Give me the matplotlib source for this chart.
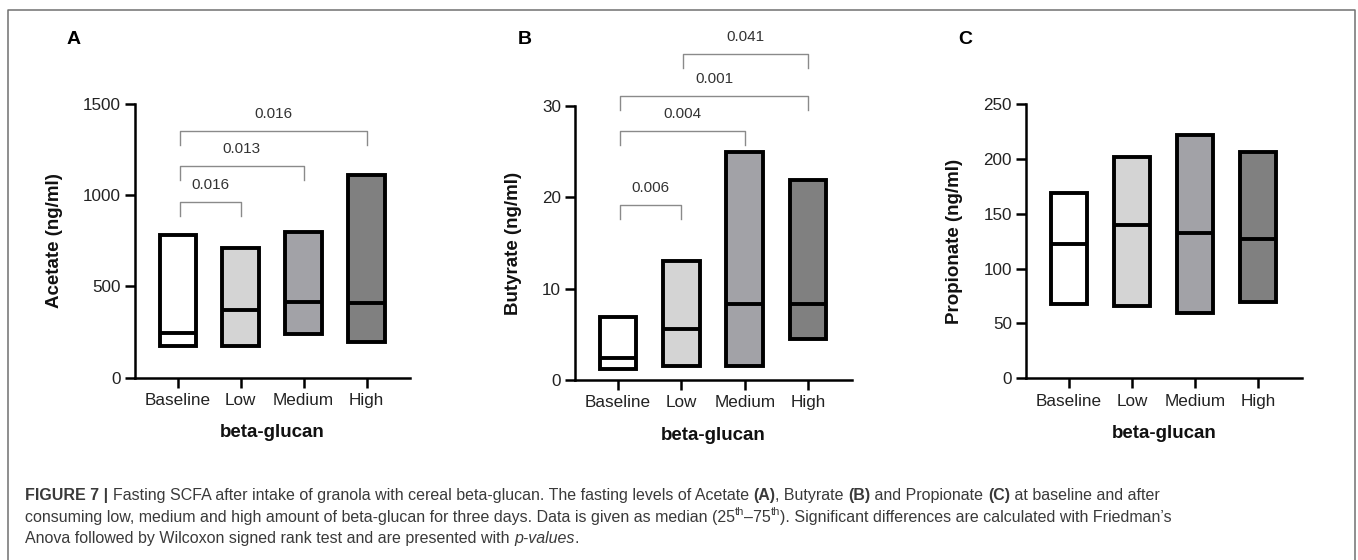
import numpy as np
import matplotlib.pyplot as plt

plt.rcParams['font.family'] = ['Liberation Sans', 'DejaVu Sans']

# groups and median (25th-75th) values
groups = ['Baseline', 'Low', 'Medium', 'High']
fills = ['#ffffff', '#d4d4d4', '#a2a2a7', '#808080']

acetate_q1 = [175, 175, 239, 197]
acetate_med = [243, 371, 413, 408]
acetate_q3 = [782, 709, 800, 1111]

butyrate_q1 = [1.17, 1.53, 1.53, 4.49]
butyrate_med = [2.37, 5.55, 8.32, 8.32]
butyrate_q3 = [6.93, 13.06, 24.94, 21.9]

propionate_q1 = [67.7, 65.9, 59.3, 69.9]
propionate_med = [122.1, 139.7, 132.8, 126.7]
propionate_q3 = [169.2, 202.0, 221.8, 206.6]

# significance brackets: (group i, group j, height, p-value)
acetate_p = [(0, 1, 961, '0.016'), (0, 2, 1160, '0.013'), (0, 3, 1352, '0.016')]
butyrate_p = [(0, 1, 19.2, '0.006'), (0, 2, 27.3, '0.004'),
              (0, 3, 31.1, '0.001'), (1, 3, 35.7, '0.041')]
propionate_p = []

W, H = 1358, 560
fig = plt.figure(figsize=(W / 100, H / 100), dpi=100)


def px_rect(left, right, top, bottom):
    return [left / W, 1 - bottom / H, (right - left) / W, (bottom - top) / H]


panels = [
    ('A', 'Acetate (ng/ml)', acetate_q1, acetate_med, acetate_q3, acetate_p,
     1500, [0, 500, 1000, 1500], px_rect(135, 410, 104, 377.7), -0.262, 67),
    ('B', 'Butyrate (ng/ml)', butyrate_q1, butyrate_med, butyrate_q3, butyrate_p,
     30, [0, 10, 20, 30], px_rect(575, 851.7, 106, 380), -0.193, 518),
    ('C', 'Propionate (ng/ml)', propionate_q1, propionate_med, propionate_q3, propionate_p,
     250, [0, 50, 100, 150, 200, 250], px_rect(1026, 1301.7, 104, 378.3), -0.23, 958),
]

x = np.arange(len(groups))
bw = 0.58

for letter, ylab, q1, med, q3, pvals, ymax, yt, rect, ylx, letter_x in panels:
    ax = fig.add_axes(rect)
    q1 = np.array(q1)
    q3 = np.array(q3)
    ax.bar(x, q3 - q1, bottom=q1, width=bw, color=fills, edgecolor='black',
           linewidth=2.8, zorder=3)
    ax.hlines(med, x - bw / 2, x + bw / 2, color='black', linewidth=2.8, zorder=4)

    ax.set_xlim(-0.68, 3.69)
    ax.set_ylim(0, ymax)
    ax.set_yticks(yt)
    ax.set_xticks(x)
    ax.set_xticklabels(groups)
    for s in ['top', 'right']:
        ax.spines[s].set_visible(False)
    for s in ['left', 'bottom']:
        ax.spines[s].set_linewidth(1.8)
    ax.tick_params(direction='out', length=7, width=1.8, labelsize=12.3,
                   colors='black', labelcolor='#222222')
    ax.tick_params(axis='x', pad=4)
    ax.tick_params(axis='y', pad=3)

    ax.set_ylabel(ylab, fontsize=13.5, fontweight='bold', color='#111111')
    ax.yaxis.set_label_coords(ylx, 0.5)
    ax.set_xlabel('beta-glucan', fontsize=13.5, fontweight='bold', color='#111111')
    ax.xaxis.set_label_coords(0.5, -55 / 274)
    ax.xaxis.label.set_va('center')

    leg = 0.051 * ymax
    for i, j, yb, lab in pvals:
        xs = [x[i] + 0.03, x[i] + 0.03, x[j], x[j]]
        ys = [yb - leg, yb, yb, yb - leg]
        ax.plot(xs, ys, color='#8a8a8a', linewidth=1.0, clip_on=False)
        ax.annotate(lab, xy=((xs[0] + xs[-1]) / 2, yb), xytext=(0, 12.3),
                    textcoords='offset points', ha='center', va='center',
                    fontsize=11, color='#333333', annotation_clip=False)

    fig.text(letter_x / W, 1 - 40 / H, letter, fontsize=14, fontweight='bold',
             ha='left', va='center')

# frame and caption
cap = fig.add_axes([0, 0, 1, 1], zorder=-1)
cap.set_xlim(0, W)
cap.set_ylim(H, 0)
cap.axis('off')
cap.plot([8, 8, 1355, 1355], [H + 5, 10, 10, H + 5], color='#707070',
         linewidth=1.1, clip_on=False)

cfont = ['Liberation Sans', 'DejaVu Sans']
ccol = '#3a3a3a'
csize = 11.5

lines = [
    [('FIGURE 7 | ', 'bold', 'normal', False),
     ('Fasting SCFA after intake of granola with cereal beta-glucan. The fasting levels of Acetate ', 'normal', 'normal', False),
     ('(A)', 'bold', 'normal', False),
     (', Butyrate ', 'normal', 'normal', False),
     ('(B)', 'bold', 'normal', False),
     (' and Propionate ', 'normal', 'normal', False),
     ('(C)', 'bold', 'normal', False),
     (' at baseline and after', 'normal', 'normal', False)],
    [('consuming low, medium and high amount of beta-glucan for three days. Data is given as median (25', 'normal', 'normal', False),
     ('th', 'normal', 'normal', True),
     ('\u201375', 'normal', 'normal', False),
     ('th', 'normal', 'normal', True),
     ('). Significant differences are calculated with Friedman\u2019s', 'normal', 'normal', False)],
    [('Anova followed by Wilcoxon signed rank test and are presented with ', 'normal', 'normal', False),
     ('p-values', 'normal', 'italic', False),
     ('.', 'normal', 'normal', False)],
]
baselines = [500, 521.7, 543]

for segs, yb in zip(lines, baselines):
    prev = None
    for txt, wt, st, sup in segs:
        kw = dict(family=cfont, fontweight=wt, fontstyle=st, color=ccol,
                  va='baseline', ha='left', fontsize=csize * (0.7 if sup else 1))
        if prev is None:
            prev = cap.text(25, yb, txt, **kw)
        else:
            prev = cap.annotate(txt, xy=(1, yb), xycoords=(prev, 'data'),
                                xytext=(0, 5 if sup else 0),
                                textcoords='offset points', **kw)

fig.savefig('out.png', dpi=100)
